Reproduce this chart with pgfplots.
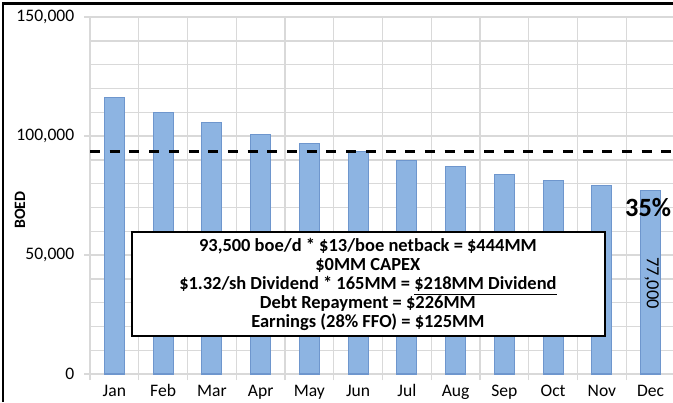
\documentclass[border=0pt]{standalone}
\usepackage{pgfplots}
\pgfplotsset{compat=1.18}
\usepackage{fontspec}
\setmainfont{Carlito}
\definecolor{barfill}{RGB}{141,180,226}
\definecolor{baredge}{RGB}{110,150,205}
\definecolor{gridc}{RGB}{217,217,217}
\begin{document}
\begin{tikzpicture}
\useasboundingbox (0,0) rectangle (13.46cm,8.04cm);
\clip (0,0) rectangle (13.46cm,8.04cm);
\fill[white] (0,0) rectangle (13.46cm,8.04cm);
\begin{axis}[
  at={(1.8cm,0.56cm)}, anchor=south west,
  scale only axis, width=11.7cm, height=7.14cm,
  xmin=-0.5, xmax=11.5, ymin=0, ymax=150000,
  axis x line*=bottom, axis y line*=left,
  axis line style={draw=gridc,-},
  xtick={0,...,11},
  xticklabels={Jan,Feb,Mar,Apr,May,Jun,Jul,Aug,Sep,Oct,Nov,Dec},
  major x tick style={draw=none},
  minor xtick={-0.5,0.5,...,11.5},
  xminorgrids, minor x grid style={gridc, line width=0.8pt},
  minor x tick style={draw=gridc, line width=0.8pt},
  minor tick length=0.12cm,
  ytick={0,50000,100000,150000},
  minor ytick={10000,20000,...,140000},
  ymajorgrids, yminorgrids,
  major y grid style={gridc, line width=0.8pt},
  minor y grid style={gridc, line width=0.8pt},
  major y tick style={draw=gridc, line width=0.8pt},
  minor y tick style={draw=none},
  major tick length=0.12cm,
  tick align=outside,
  scaled y ticks=false,
  /pgf/number format/.cd, fixed, 1000 sep={,}, assume math mode=true, /pgfplots/.cd,
  tick label style={font=\fontsize{10}{12}\selectfont, text=black},
  yticklabel style={xshift=-2pt},
  xticklabel style={text height=1.6ex, text depth=0.3ex, yshift=2pt},
  clip=false,
]
\addplot[ybar, bar width=0.4cm, draw=baredge, line width=0.6pt, fill=barfill] coordinates {
(0,116000) (1,110000) (2,105500) (3,100800) (4,97000) (5,93300)
(6,89900) (7,87000) (8,84000) (9,81500) (10,79400) (11,77000)};
\addplot[black, line width=2pt, dash pattern=on 0.2cm off 0.194cm, forget plot] coordinates {(-0.5,93500) (11.6,93500)};
\node[rotate=-90, font=\fontsize{10.5}{12}\selectfont] at (axis cs:11.02,38200) {77,000};
\node[font=\bfseries\fontsize{15}{17}\selectfont, anchor=west, inner sep=0pt] at (axis cs:10.47,70000) {35\%};
\draw[black, line width=1.2pt, fill=white] (axis cs:0.369,59660) rectangle (axis cs:10.06,15970);
\node[align=center, font=\bfseries\fontsize{10.5}{0.38cm}\selectfont] at (axis cs:5.2,37500) {93,500 boe/d * \$13/boe netback = \$444MM\\ \$0MM CAPEX\\ \$1.32/sh Dividend * 165MM = \underline{\$218MM Dividend}\\ Debt Repayment = \$226MM\\ Earnings (28\% FFO) = \$125MM};
\end{axis}
\node[rotate=90, font=\bfseries\fontsize{9}{11}\selectfont] at (0.4cm,3.84cm) {BOED};
\draw[black, line width=1.5pt] (0.06cm,0) -- (0.06cm,7.97cm) -- (13.46cm,7.97cm);
\end{tikzpicture}
\end{document}
